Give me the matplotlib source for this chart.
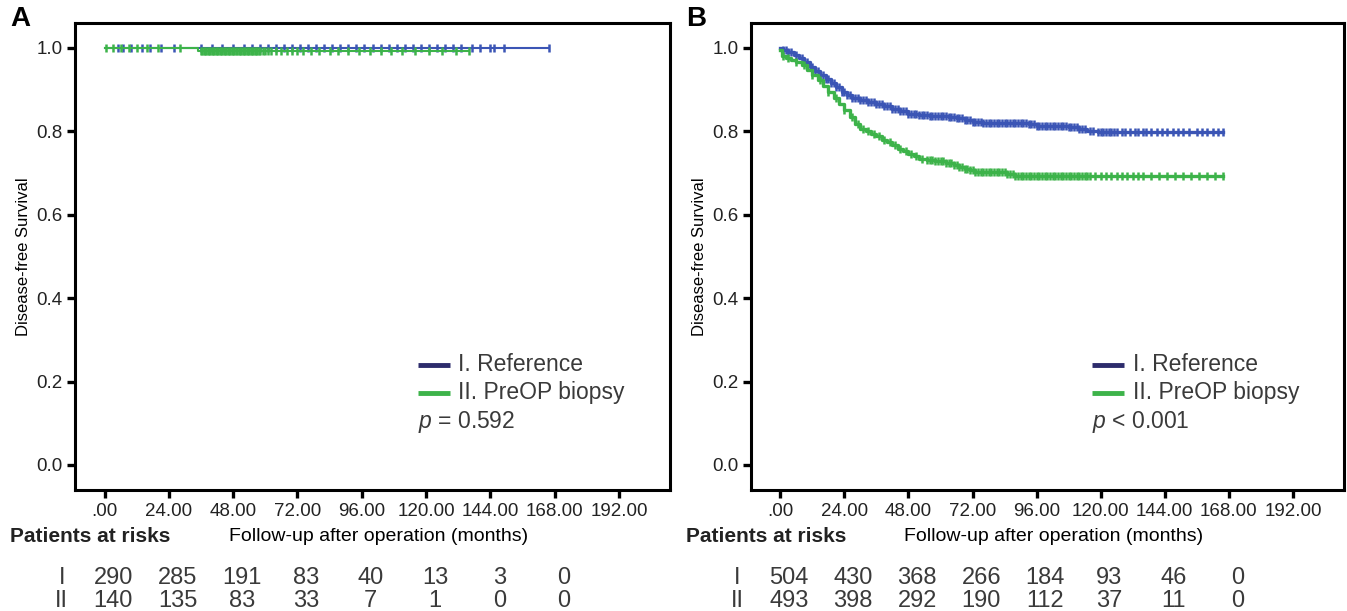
import matplotlib
matplotlib.use("Agg")
import matplotlib.pyplot as plt
import matplotlib.transforms as mtransforms
from matplotlib import font_manager
import numpy as np

names = {f.name for f in font_manager.fontManager.ttflist}
NARROW = 'Liberation Sans Narrow' if 'Liberation Sans Narrow' in names else 'Liberation Sans'
REG = 'Liberation Sans'
plt.rcParams['font.family'] = [REG, 'DejaVu Sans']
plt.rcParams['mathtext.fontset'] = 'custom'
plt.rcParams['mathtext.it'] = 'Liberation Sans:italic'
plt.rcParams['mathtext.rm'] = 'Liberation Sans'

BLUE = '#3b55b5'
GREEN = '#3db34a'
NAVY = '#2d2c6c'
TXT = '#3a3a3a'

# ---- data ----
x_ticks = [0, 24, 48, 72, 96, 120, 144, 168, 192]
x_tick_labels = ['.00', '24.00', '48.00', '72.00', '96.00', '120.00', '144.00', '168.00', '192.00']
y_ticks = [0.0, 0.2, 0.4, 0.6, 0.8, 1.0]
risk_times = [0, 24, 48, 72, 96, 120, 144, 168]
group_names = ['I. Reference', 'II. PreOP biopsy']

# panel A (no events in reference group, one small drop in PreOP group)
a_ref_t = [0, 166]
a_ref_s = [1.0, 1.0]
a_pre_t = [0, 35, 136]
a_pre_s = [1.0, 0.993, 0.993]
a_ref_cens = [5, 7, 10, 14, 17, 21, 26, 36, 40, 44, 48, 52, 55, 58, 61, 64, 67, 70, 73,
              76, 79, 82, 85, 88, 91, 94, 97, 100, 103, 106, 109, 112, 115, 118, 121,
              124, 127, 130, 133, 137, 140, 144, 145.5, 149, 166]
a_pre_cens = [0.5, 3, 6, 9, 12, 16, 20, 28, 36, 36.5, 37, 37.5, 38, 38.5, 39, 39.5, 40,
              40.5, 41, 41.5, 42, 42.5, 43, 43.5, 44, 44.5, 45, 45.5, 46, 46.5, 47, 47.5,
              48, 48.5, 49, 49.5, 50, 50.5, 51, 51.5, 52, 52.5, 53, 53.5, 54, 54.5, 55,
              55.5, 56, 56.5, 57, 57.5, 58, 59, 60, 61, 62, 64, 66, 68, 70, 72, 74, 77,
              80, 84, 87, 91, 95, 99, 103, 107, 111, 116, 121, 126, 131, 136]
a_risk_ref = [290, 285, 191, 83, 40, 13, 3, 0]
a_risk_pre = [140, 135, 83, 33, 7, 1, 0, 0]
a_p = '$p$ = 0.592'

# panel B
b_ref_t = [0, 1, 3, 5, 7, 9, 11, 13, 15, 17, 19, 21, 23, 25, 27, 30, 33, 36, 39, 42, 45,
           48, 52, 56, 63, 66, 69, 72, 76, 93, 96, 108, 112, 115, 119, 166]
b_ref_s = [1.0, 0.995, 0.99, 0.982, 0.975, 0.965, 0.955, 0.945, 0.935, 0.925, 0.915,
           0.905, 0.895, 0.887, 0.88, 0.876, 0.87, 0.865, 0.86, 0.853, 0.848, 0.842,
           0.838, 0.837, 0.835, 0.831, 0.826, 0.822, 0.82, 0.817, 0.812, 0.81, 0.806,
           0.801, 0.798, 0.798]
b_pre_t = [0, 0.5, 2, 4, 6, 8, 10, 12, 14, 16, 18, 20, 22, 24, 26, 28, 30, 32, 34, 36,
           38, 40, 42, 44, 46, 48, 50, 52, 55, 58, 62, 65, 67, 69, 71, 73, 85, 88, 166]
b_pre_s = [0.995, 0.98, 0.975, 0.97, 0.965, 0.958, 0.948, 0.935, 0.922, 0.908, 0.895,
           0.88, 0.865, 0.85, 0.835, 0.818, 0.806, 0.8, 0.794, 0.788, 0.78, 0.774,
           0.766, 0.758, 0.752, 0.746, 0.74, 0.734, 0.731, 0.728, 0.725, 0.72, 0.715,
           0.71, 0.706, 0.703, 0.698, 0.692, 0.692]
b_ref_cens = [1, 2, 3, 4, 6, 8, 10, 12, 13, 14, 15, 16, 17, 18, 19, 20, 21, 22, 23, 24,
              25, 26, 27, 28, 29, 30, 31, 32, 33, 34, 35, 36, 37, 38, 39, 40, 41, 42, 43,
              44, 45, 46, 47, 48, 49, 50, 51, 52, 53, 54, 55, 56, 57, 58, 59, 60, 61,
              62, 63, 64, 65, 66, 67, 68, 69, 70, 71, 72, 73, 74, 75, 76, 77, 78, 79,
              80, 81, 82, 83, 84, 85, 86, 87, 88, 89, 90, 91, 92, 93, 94, 95, 96, 97,
              98, 99, 100, 101, 102, 103, 104, 105, 106, 107, 108, 109, 110, 111, 112,
              113, 114, 116, 117, 119, 120, 121, 122, 123, 124, 125, 126, 128, 129, 131,
              133, 134, 136, 137, 139, 141, 143, 145, 147, 149, 151, 153, 156, 158, 160,
              162, 164, 166]
b_pre_cens = [1, 3, 6, 9, 12, 15, 18, 21, 24, 27, 29, 31, 33, 35, 37, 39, 41, 43, 45, 47,
              49, 51, 53, 55, 56, 57, 58, 59, 60, 61, 62, 63, 64, 65, 66, 67, 68, 69,
              70, 71, 72, 73, 74, 75, 76, 77, 78, 79, 80, 81, 82, 83, 84, 85, 86, 87,
              88, 89, 90, 91, 92, 93, 94, 95, 96, 97, 98, 99, 100, 101, 102, 103, 104,
              105, 106, 107, 108, 109, 110, 111, 112, 113, 114, 115, 116, 118, 120, 122,
              124, 126, 128, 130, 132, 134, 136, 139, 142, 145, 148, 151, 154, 157, 160,
              163, 166]
b_risk_ref = [504, 430, 368, 266, 184, 93, 46, 0]
b_risk_pre = [493, 398, 292, 190, 112, 37, 11, 0]
b_p = '$p$ < 0.001'


def surv_at(t_steps, s_steps, times):
    idx = np.searchsorted(t_steps, times, side='right') - 1
    idx = np.clip(idx, 0, len(s_steps) - 1)
    return np.asarray(s_steps)[idx]


def draw_panel(ax, letter, curves, risk_rows, ptext, lw):
    for t, s, cens, color in curves:
        ax.plot(t, s, drawstyle='steps-post', color=color, lw=lw, zorder=3)
        ax.plot(cens, surv_at(t, s, cens), linestyle='none', marker='|', ms=5.5,
                mew=1.8, color=color, zorder=3)

    ax.set_xlim(-11, 211)
    ax.set_ylim(-0.06, 1.059)
    ax.set_xticks(x_ticks)
    ax.set_xticklabels(x_tick_labels)
    ax.set_yticks(y_ticks)
    ax.set_yticklabels([f'{v:.1f}' for v in y_ticks])
    for sp in ax.spines.values():
        sp.set_linewidth(2.2)
    ax.tick_params(direction='out', length=6, width=2.4, pad=3, labelsize=13.5,
                   labelcolor='#222222')
    for lab in ax.get_xticklabels() + ax.get_yticklabels():
        lab.set_fontfamily(NARROW)

    ax.set_ylabel('Disease-free Survival', fontsize=12, family=NARROW, labelpad=4)
    ax.set_xlabel('Follow-up after operation (months)', fontsize=14, family=NARROW)
    ax.xaxis.set_label_coords(0.51, -0.082)

    # legend
    for i, (name, col) in enumerate(zip(group_names, [NAVY, GREEN])):
        y = 0.268 - i * 0.06
        ax.plot([0.576, 0.630], [y, y], transform=ax.transAxes, color=col, lw=3.5,
                solid_capstyle='butt', clip_on=False)
        ax.text(0.644, y, name, transform=ax.transAxes, fontsize=16.5, color=TXT,
                va='center', ha='left')
    ax.text(0.576, 0.146, ptext, transform=ax.transAxes, fontsize=16.5, color=TXT,
            va='center', ha='left')

    # panel letter and risk table
    ax.text(-0.109, 1.009, letter, transform=ax.transAxes, fontsize=20, weight='bold',
            va='center', ha='left')
    ax.text(-0.109, -0.10, 'Patients at risks', transform=ax.transAxes, fontsize=15,
            weight='bold', family=NARROW, color='#222222', va='center', ha='left')
    trans = mtransforms.blended_transform_factory(ax.transData, ax.transAxes)
    for j, (lab, vals) in enumerate(zip(['I', 'II'], risk_rows)):
        y = -0.188 - j * 0.05
        ax.text(-16, y, lab, transform=trans, fontsize=17, color=TXT, va='center',
                ha='center', clip_on=False)
        for tt, v in zip(risk_times, vals):
            ax.text(tt + 3.3, y, str(v), transform=trans, fontsize=17, color=TXT,
                    va='center', ha='center', clip_on=False)


fig = plt.figure(figsize=(13.47, 6.11), dpi=100)
axA = fig.add_axes([0.0557, 0.198, 0.4417, 0.764])
axB = fig.add_axes([0.5575, 0.198, 0.4400, 0.764])

draw_panel(axA, 'A',
           [(a_ref_t, a_ref_s, a_ref_cens, BLUE), (a_pre_t, a_pre_s, a_pre_cens, GREEN)],
           [a_risk_ref, a_risk_pre], a_p, 1.5)
draw_panel(axB, 'B',
           [(b_ref_t, b_ref_s, b_ref_cens, BLUE), (b_pre_t, b_pre_s, b_pre_cens, GREEN)],
           [b_risk_ref, b_risk_pre], b_p, 2.4)

fig.savefig('out.png', dpi=100)
